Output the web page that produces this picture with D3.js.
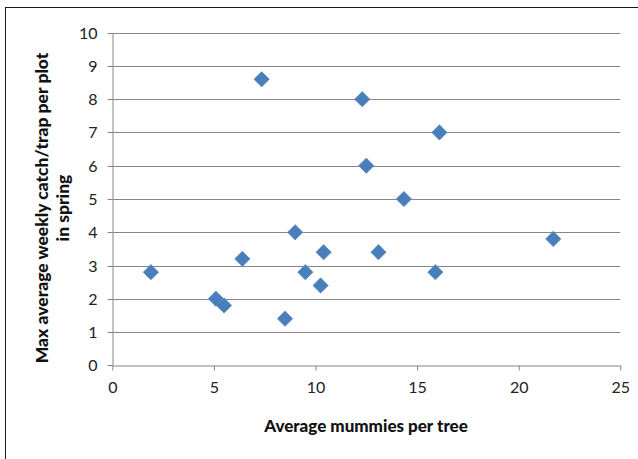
<!DOCTYPE html>
<html>
<head>
<meta charset="utf-8">
<script src="https://cdn.jsdelivr.net/npm/d3@7"></script>
<style>
  html, body { margin: 0; padding: 0; background: #fff; }
  svg { display: block; }
  text { font-family: Lato, "Open Sans", sans-serif; }
</style>
</head>
<body>
<script>
// Mummies per tree vs. spring trap catch, one point per plot
const mummiesPerTree = [1.9, 5.1, 5.5, 6.4, 7.35, 8.5, 9.0, 9.5, 10.4, 10.25, 12.3, 12.5, 13.1, 14.35, 15.9, 16.1, 21.7];
const maxWeeklyCatch = [2.8, 2.0, 1.8, 3.2, 8.6, 1.4, 4.0, 2.8, 3.4, 2.4, 8.0, 6.0, 3.4, 5.0, 2.8, 7.0, 3.8];
const xTicks = [0, 5, 10, 15, 20, 25];
const yTicks = [0, 1, 2, 3, 4, 5, 6, 7, 8, 9, 10];
const xTitle = "Average mummies per tree";
const yTitleLines = ["Max average weekly catch/trap per plot", "in spring"];

const W = 638, H = 459;
const plot = { left: 112.3, right: 620.3, top: 32.7, bottom: 365.3 };

const svg = d3.select("body").append("svg")
  .attr("width", W).attr("height", H);

// chart frame
svg.append("rect")
  .attr("x", 5.5).attr("y", 7.5)
  .attr("width", W + 10).attr("height", H + 10)
  .attr("fill", "#fff").attr("stroke", "#1a1a1a").attr("stroke-width", 1);

const x = d3.scaleLinear().domain([0, 25]).range([plot.left, plot.right]);
const y = d3.scaleLinear().domain([0, 10]).range([plot.bottom, plot.top]);

// horizontal gridlines
svg.append("g").selectAll("line")
  .data(yTicks.filter(t => t > 0))
  .join("line")
  .attr("x1", plot.left).attr("x2", plot.right)
  .attr("y1", d => Math.round(y(d)) + 0.5).attr("y2", d => Math.round(y(d)) + 0.5)
  .attr("stroke", "#868686").attr("stroke-width", 1);

// x axis
const xAxis = svg.append("g")
  .attr("transform", `translate(0,${Math.round(plot.bottom) + 0.5})`)
  .call(d3.axisBottom(x).tickValues(xTicks).tickSize(5).tickSizeOuter(0).tickPadding(11));
// y axis
const yAxis = svg.append("g")
  .attr("transform", `translate(${Math.round(plot.left) + 0.5},0)`)
  .call(d3.axisLeft(y).tickValues(yTicks).tickSize(5).tickSizeOuter(0).tickPadding(10));

[xAxis, yAxis].forEach(g => {
  g.select(".domain").attr("stroke", "#868686");
  g.selectAll(".tick line").attr("stroke", "#868686");
  g.selectAll(".tick text")
    .attr("fill", "#222")
    .style("font-family", "Lato, sans-serif")
    .style("font-size", "16px");
});
yAxis.selectAll(".tick").attr("transform", d => `translate(0,${Math.round(y(d)) + 0.5})`);

// points
const diamond = d3.symbol().type(d3.symbolSquare).size(116);
svg.append("g").selectAll("path")
  .data(mummiesPerTree.map((m, i) => [m, maxWeeklyCatch[i]]))
  .join("path")
  .attr("d", diamond)
  .attr("transform", d => `translate(${x(d[0])},${y(d[1])}) rotate(45)`)
  .attr("fill", "#4a7ebb")
  .attr("stroke", "#5b8bc4")
  .attr("stroke-width", 0.8);

// axis titles
svg.append("text")
  .attr("x", 366).attr("y", 432)
  .attr("text-anchor", "middle")
  .attr("font-weight", 900).attr("font-size", "17px").attr("fill", "#111")
  .text(xTitle);

const yt = svg.append("text")
  .attr("transform", "translate(0,208) rotate(-90)")
  .attr("text-anchor", "middle")
  .attr("font-weight", 900).attr("font-size", "17.5px").attr("fill", "#111");
yTitleLines.forEach((line, i) => {
  yt.append("tspan").attr("x", 0).attr("y", 48 + i * 21).text(line);
});
</script>
</body>
</html>
